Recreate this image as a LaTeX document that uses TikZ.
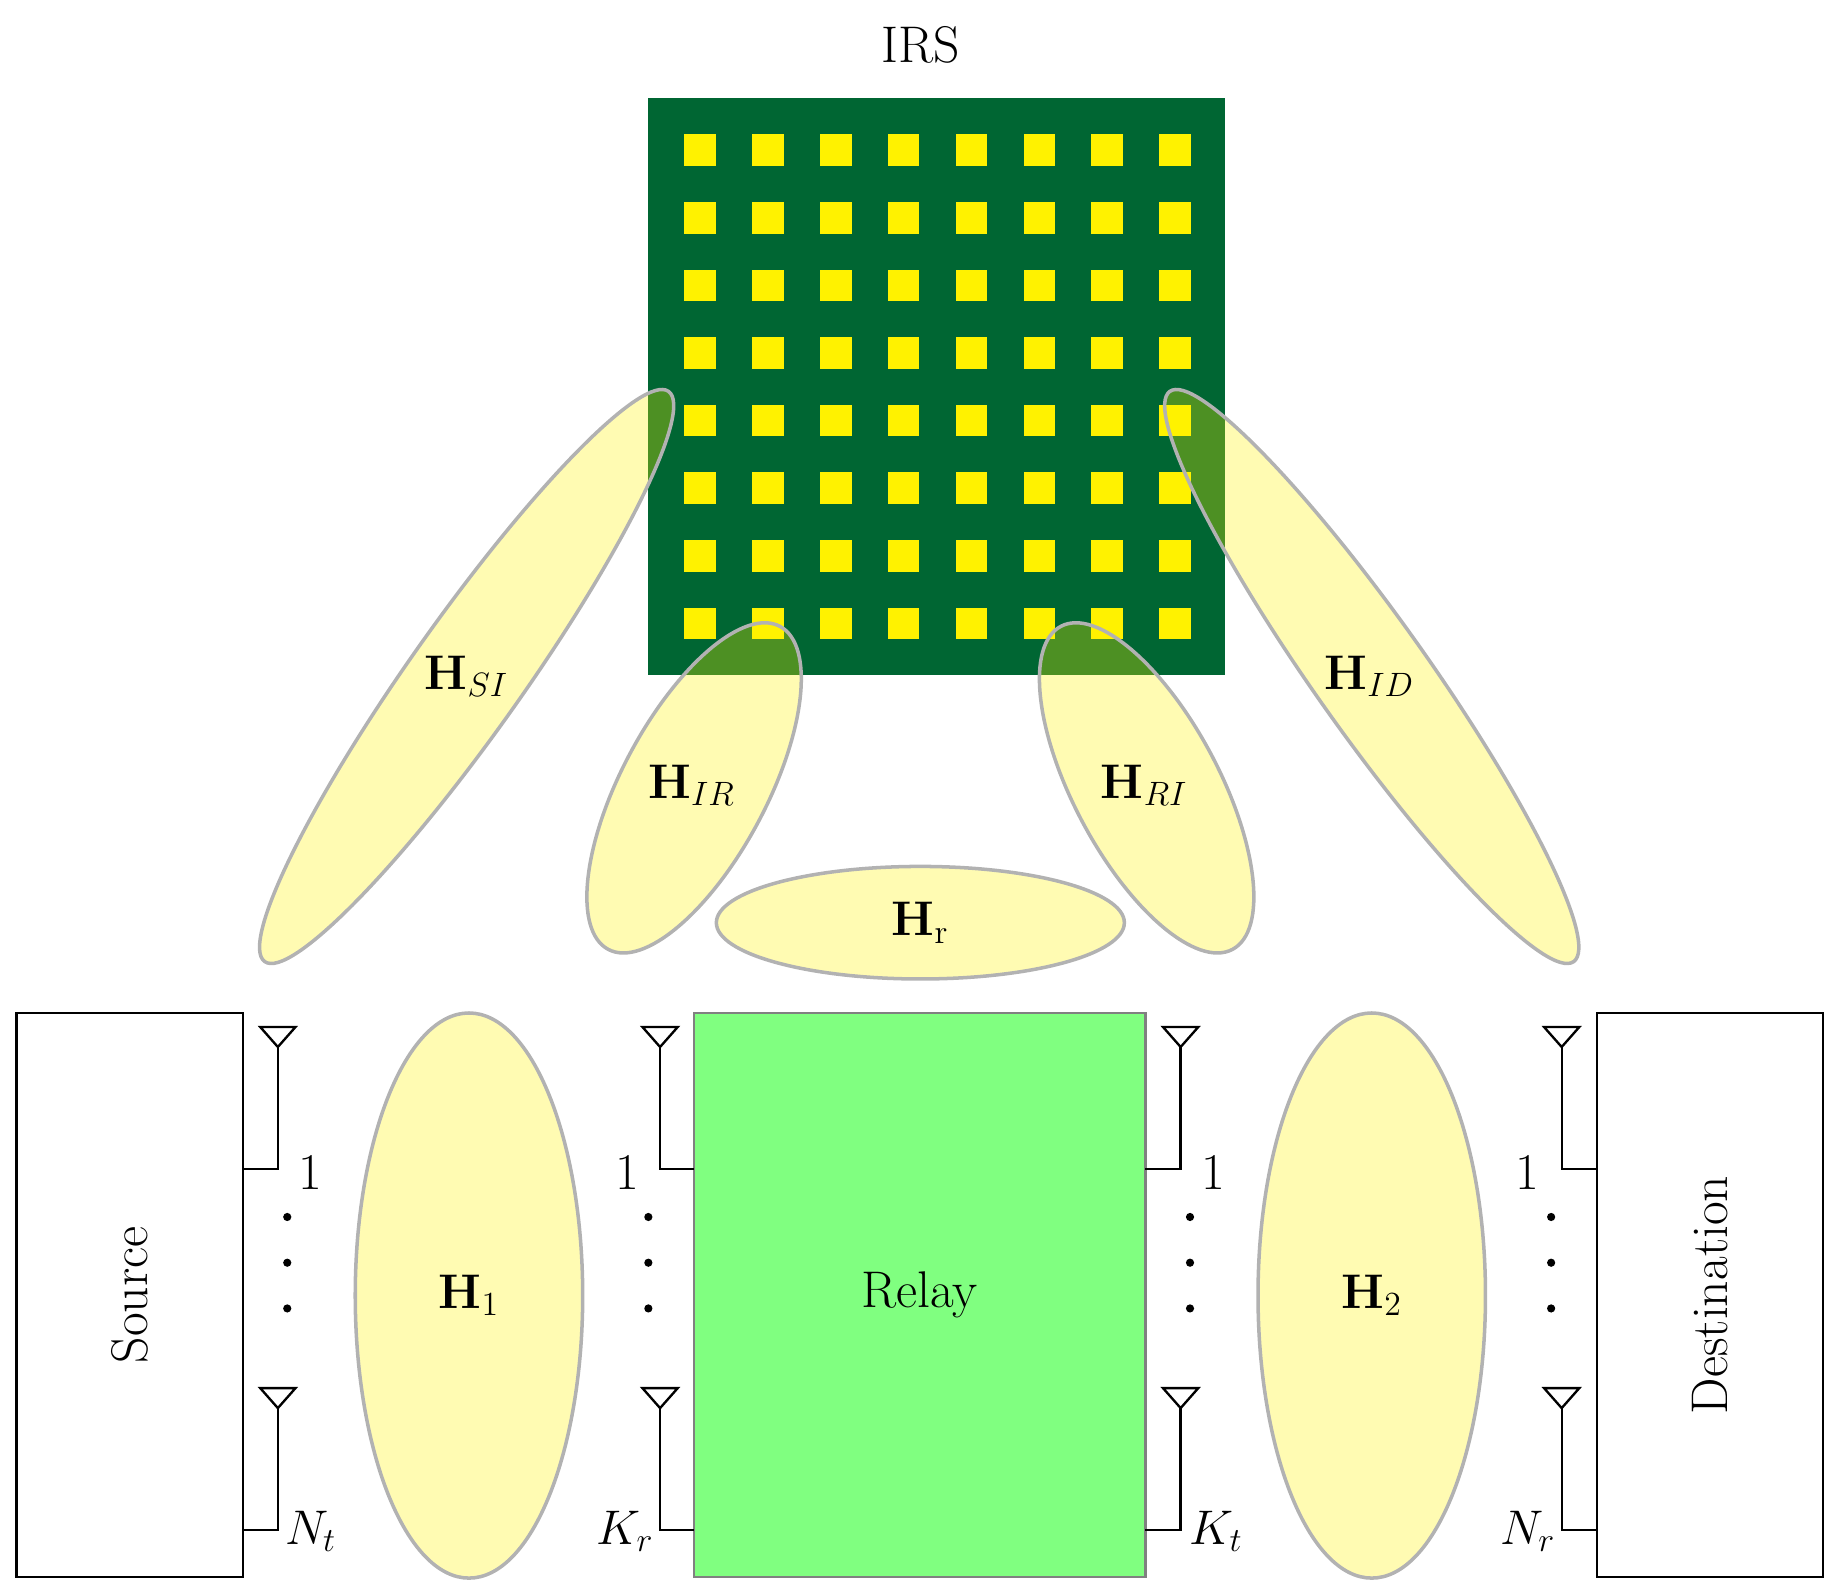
\documentclass[tikz,border=0pt]{standalone}
\usetikzlibrary{shapes.geometric}
\definecolor{irsgreen}{HTML}{006633}
\definecolor{relaygreen}{HTML}{80FF80}
\begin{document}
\begin{tikzpicture}[x=0.5pt,y=-0.5pt,
  every node/.style={font=\fontsize{22}{26}\selectfont},
  blk/.style={draw=black,line width=1pt,minimum width=96.5pt,minimum height=240.5pt,inner sep=0pt},
  chan/.style={ellipse,draw=black!30,line width=1.5pt,fill=yellow,fill opacity=0.3,text opacity=1,inner sep=0pt},
  wire/.style={line width=1pt},
  dotm/.style={circle,fill=black,inner sep=0pt,minimum size=3.5pt}]
\useasboundingbox (0,0) rectangle (1560,1353);
% boxes
\node[blk] (src) at (110.5,1104.5) {};
\node[rotate=90] (srct) at (110.5,1104.5) {Source};
\node[blk,draw=black!50,fill=relaygreen,minimum width=192.5pt] (relay) at (784.5,1104.5) {Relay};
\node[blk] (dst) at (1458.5,1104.5) {};
\node[rotate=90] (dstt) at (1458.5,1104.5) {Destination};
% IRS
\node[fill=irsgreen,minimum width=246pt,minimum height=246pt,inner sep=0pt] (irs) at (799,330) {};
\node (irst) at (785,38) {IRS};
\foreach \i in {0,...,7}\foreach \j in {0,...,7}
  \fill[yellow] ({597+57.9*\i-13.5},{128+57.7*\j-13.5}) rectangle ++(27,27);
% antennas
\newcommand{\ant}[4]{% x, y-top, y-bottom(feed), box x
  \draw[wire] (#1-15,#2) -- (#1+15,#2) -- (#1,#2+17) -- cycle;
  \coordinate (f) at (#4,#3);
  \draw[wire] (#1,#2+17) |- (f);}
\foreach \ax/\bx in {237/207,563/592,1007/977,1332/1362}{
  \ant{\ax}{876}{997}{\bx}
  \ant{\ax}{1184}{1305}{\bx}}
\foreach \dx in {245,553,1015,1323}
  \foreach \dy in {1038,1077,1116} \node[dotm] at (\dx,\dy) {};
\node (l1) at (265,1000) {1};
\node (l2) at (535,1000) {1};
\node (l3) at (1035,1000) {1};
\node (l4) at (1303,1000) {1};
\node (n1) at (265,1306) {$N_t$};
\node (n2) at (533,1306) {$K_r$};
\node (n3) at (1037,1306) {$K_t$};
\node (n4) at (1303,1306) {$N_r$};
% channels
\node[chan,minimum width=97pt,minimum height=241pt] (h1) at (400,1105) {$\mathbf{H}_1$};
\node[chan,minimum width=97pt,minimum height=241pt] (h2) at (1170,1105) {$\mathbf{H}_2$};
\node[chan,minimum width=174pt,minimum height=48pt] (hr) at (785,787) {$\mathbf{H}_\mathrm{r}$};
\node[chan,minimum width=298pt,minimum height=48pt,rotate=54.7] (hsi) at (398,577) {};
\node (hsit) at (398,577) {$\mathbf{H}_{SI}$};
\node[chan,minimum width=298pt,minimum height=48pt,rotate=-54.7] (hid) at (1170,577) {};
\node (hidt) at (1168,577) {$\mathbf{H}_{ID}$};
\node[chan,minimum width=156pt,minimum height=62pt,rotate=62] (hir) at (592,672) {};
\node (hirt) at (590,670) {$\mathbf{H}_{IR}$};
\node[chan,minimum width=156pt,minimum height=62pt,rotate=-62] (hri) at (978,672) {};
\node (hrit) at (976,670) {$\mathbf{H}_{RI}$};
\end{tikzpicture}
\end{document}
